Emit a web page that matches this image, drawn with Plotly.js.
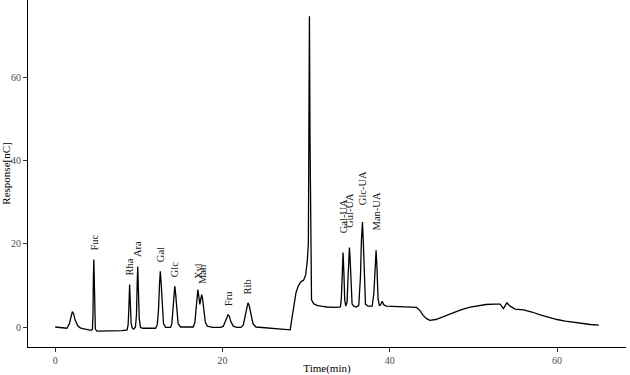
<!DOCTYPE html>
<html>
<head>
<meta charset="utf-8">
<script src="https://cdn.plot.ly/plotly-3.0.1.min.js"></script>
<style>html,body{margin:0;padding:0;background:#fff;}#chart{width:630px;height:375px;}</style>
</head>
<body>
<div id="chart"></div>
<script>
// Retention time (min)
const time = [
  0, 1.0, 1.4, 1.7, 1.9, 2.05, 2.2, 2.4, 2.7, 3.0, 3.3, 3.6, 3.9, 4.3,
  4.45, 4.52, 4.57, 4.62, 4.67, 4.72, 4.8, 5.0, 6, 7, 8, 8.6,
  8.72, 8.8, 8.9, 9.0, 9.08, 9.2, 9.4, 9.6,
  9.72, 9.8, 9.87, 9.95, 10.05, 10.2, 10.5, 11, 12,
  12.2, 12.35, 12.48, 12.57, 12.67, 12.8, 12.95, 13.2, 13.8,
  13.95, 14.1, 14.22, 14.3, 14.4, 14.55, 14.7, 15, 16, 16.5,
  16.7, 16.85, 16.98, 17.06, 17.16, 17.3, 17.42, 17.52, 17.62, 17.78, 17.95, 18.2, 18.8, 19.8,
  20.1, 20.35, 20.55, 20.68, 20.82, 21.0, 21.3, 21.7, 22.2,
  22.5, 22.75, 22.92, 23.05, 23.2, 23.4, 23.65, 24, 25, 26, 27, 28.1,
  28.3, 28.55, 28.8, 29.1, 29.4, 29.7, 29.95, 30.15, 30.27, 30.33, 30.4, 30.47, 30.55, 30.65, 30.9, 31.3, 31.8, 32.5, 33.5, 34.1,
  34.22, 34.32, 34.42, 34.52, 34.62, 34.75, 34.9, 35.02, 35.12, 35.18, 35.25, 35.35, 35.5, 35.7, 36.0,
  36.3, 36.5, 36.62, 36.74, 36.85, 36.97, 37.1, 37.4, 37.9,
  38.1, 38.25, 38.37, 38.48, 38.6, 38.75, 38.9, 39.1, 39.3, 39.6, 40.5, 41.5, 42.5, 43.2,
  43.6, 44.0, 44.4, 44.8, 45.5, 46.5, 47.5, 48.5, 49.5, 50.5, 51.5, 52.5, 53.2, 53.6, 54.0, 54.4,
  55.0, 56.0, 57.0, 58.0, 59.0, 60.0, 61.0, 62.0, 63.0, 64.0, 65.0
];
// Detector response (nC)
const response = [
  0, -0.1, -0.3, 0.8, 2.8, 3.7, 3.2, 1.6, 0.3, -0.2, -0.4, -0.5, -0.7, -0.8,
  -0.6, 3, 12, 16.2, 12, 3, -0.5, -1.0, -1.0, -0.95, -0.85, -0.7,
  0.5, 4, 10.2, 5, 1, -0.2, -0.5, 0,
  3, 10, 14.5, 9, 2, -0.1, -0.3, -0.3, -0.3,
  0.5, 4, 10.5, 13.4, 10.5, 4, 0.8, -0.1, -0.1,
  0.8, 4, 8.3, 9.8, 8, 3.5, 0.8, 0, -0.1, 0,
  1, 4.5, 8.3, 9.0, 7.5, 5.4, 6.8, 7.8, 6.8, 3.5, 1.2, 0.2, -0.1, -0.1,
  0.2, 1.4, 2.7, 3.0, 2.6, 1.3, 0.2, -0.1, -0.1,
  0.5, 3, 5.2, 5.8, 5.1, 3, 0.8, 0, -0.2, -0.3, -0.5, -0.7,
  2, 5.5, 8.3, 10, 10.9, 11.2, 12.5, 16, 20, 45, 74.6, 45, 12, 6.5, 5.6, 5.2, 5.0, 4.8, 4.7, 4.8,
  7, 14, 17.9, 13, 6.5, 5, 6, 12, 18, 19.1, 17, 10, 5.5, 5.0, 4.8,
  5.2, 12, 21, 25.2, 20, 10, 5.5, 5.0, 5.0,
  8, 15, 18.4, 14, 7, 5.2, 5.3, 6.2, 5.3, 5.0, 4.9, 4.8, 4.8, 4.7,
  4.0, 2.8, 2.0, 1.6, 1.8, 2.6, 3.4, 4.1, 4.7, 5.1, 5.4, 5.5, 5.5, 4.4, 5.8, 5.0,
  4.3, 4.1, 3.6, 2.9, 2.3, 1.8, 1.4, 1.1, 0.8, 0.6, 0.45
];
// Peak labels
const labelNames = ["Fuc", "Rha", "Ara", "Gal", "Glc", "Xyl", "Man", "Fru", "Rib", "Gal-UA", "Gul-UA", "Glc-UA", "Man-UA"];
const labelX = [4.7, 8.93, 9.85, 12.55, 14.3, 17.06, 17.53, 20.76, 23.03, 34.4, 35.1, 36.7, 38.4];
const labelY = [18, 12, 16.2, 15, 11.4, 11, 9.8, 4.6, 7.4, 22, 23.4, 28.8, 22.8];
const xTicks = [0, 20, 40, 60];
const yTicks = [0, 20, 40, 60];

const fontFam = "Liberation Serif, Times New Roman, serif";

const trace = {
  x: time, y: response, type: "scatter", mode: "lines",
  line: {color: "#000000", width: 1.3, shape: "linear"},
  hoverinfo: "skip"
};

const annotations = labelNames.map((t, i) => ({
  x: labelX[i], y: labelY[i], xref: "x", yref: "y",
  text: t, showarrow: false, textangle: -90,
  xanchor: "center", yanchor: "bottom",
  font: {family: fontFam, size: 10.5, color: "#1a1a1a"}
}));

const layout = {
  width: 630, height: 375,
  margin: {l: 28, r: 4, t: 0, b: 28},
  paper_bgcolor: "#ffffff", plot_bgcolor: "#ffffff",
  showlegend: false,
  xaxis: {
    range: [-3.25, 68.25], tickvals: xTicks, ticktext: xTicks.map(String),
    showgrid: false, zeroline: false, showline: true, linecolor: "#000000", linewidth: 1,
    ticks: "outside", ticklen: 4, tickcolor: "#333333", tickwidth: 1,
    tickfont: {family: fontFam, size: 10, color: "#4d4d4d"},
    title: {text: "Time(min)", font: {family: fontFam, size: 11, color: "#000000"}, standoff: 3},
    automargin: false
  },
  yaxis: {
    range: [-4.8, 78.5], tickvals: yTicks, ticktext: yTicks.map(String),
    showgrid: false, zeroline: false, showline: true, linecolor: "#000000", linewidth: 1,
    ticks: "outside", ticklen: 4, tickcolor: "#333333", tickwidth: 1,
    tickfont: {family: fontFam, size: 10, color: "#4d4d4d"},
    title: {text: "Response[nC]", font: {family: fontFam, size: 11, color: "#000000"}, standoff: 2},
    automargin: false
  },
  annotations: annotations
};

Plotly.newPlot("chart", [trace], layout, {displayModeBar: false, staticPlot: true});
</script>
</body>
</html>
